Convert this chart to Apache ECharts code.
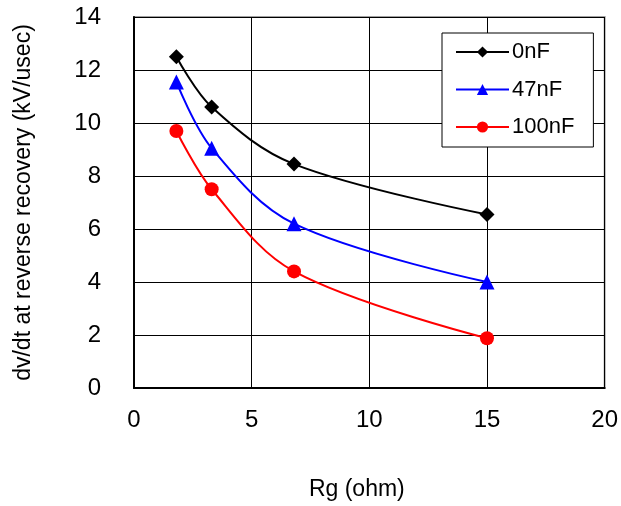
<!DOCTYPE html>
<html>
<head>
<meta charset="utf-8">
<script src="https://cdn.jsdelivr.net/npm/echarts@6/dist/echarts.min.js"></script>
<style>
html,body{margin:0;padding:0;background:#fff;}
#chart{width:621px;height:506px;}
</style>
</head>
<body>
<div id="chart"></div>
<script>
var rg = [1.8, 3.3, 6.8, 15];
var s0nF = [12.5, 10.6, 8.45, 6.55];
var s47nF = [11.55, 9.05, 6.2, 4.0];
var s100nF = [9.7, 7.5, 4.4, 1.88];
var seriesNames = ['0nF', '47nF', '100nF'];
var xTitle = 'Rg (ohm)';
var yTitle = 'dv/dt at reverse recovery (kV/usec)';

function pairs(ys){ return rg.map(function(x,i){ return [x, ys[i]]; }); }

var FONT = '"Liberation Sans", Arial, sans-serif';
var chart = echarts.init(document.getElementById('chart'));
chart.setOption({
  animation: false,
  backgroundColor: '#fff',
  grid: {left: 134, right: 16, top: 17, bottom: 118, show: true, borderColor: '#a0a0a0', borderWidth: 2, backgroundColor: '#fff'},
  legend: {
    orient: 'vertical', left: 442, top: 33,
    padding: [8, 19, 9, 13],
    itemWidth: 53, itemHeight: 14, itemGap: 15.5,
    backgroundColor: '#fff', borderColor: '#000', borderWidth: 1, borderRadius: 0,
    textStyle: {fontFamily: FONT, fontSize: 22, color: '#000', lineHeight: 22, padding: [0,0,0,-2]},
    data: seriesNames
  },
  xAxis: {
    type: 'value', min: 0, max: 20, interval: 5,
    name: xTitle, nameLocation: 'middle', nameGap: 90,
    nameTextStyle: {fontFamily: FONT, fontSize: 23, color: '#000', padding: [0, 25, 0, 0]},
    axisLine: {show: true, onZero: false, lineStyle: {color: '#000', width: 2}},
    axisTick: {show: false},
    axisLabel: {fontFamily: FONT, fontSize: 24, color: '#000', margin: 20},
    splitLine: {show: true, lineStyle: {color: '#000', width: 1}}
  },
  yAxis: {
    type: 'value', min: 0, max: 14, interval: 2,
    name: yTitle, nameLocation: 'middle', nameGap: 99,
    nameTextStyle: {fontFamily: FONT, fontSize: 23, color: '#000'},
    axisLine: {show: true, lineStyle: {color: '#000', width: 2}},
    axisTick: {show: false},
    axisLabel: {fontFamily: FONT, fontSize: 24, color: '#000', margin: 33},
    splitLine: {show: true, lineStyle: {color: '#000', width: 1}}
  },
  series: [
    {name: seriesNames[0], type: 'line', data: pairs(s0nF), smooth: 0.35,
     symbol: 'diamond', symbolSize: 15, lineStyle: {color: '#000', width: 2}, itemStyle: {color: '#000'}},
    {name: seriesNames[1], type: 'line', data: pairs(s47nF), smooth: 0.35,
     symbol: 'triangle', symbolSize: 15, lineStyle: {color: '#0000ff', width: 2}, itemStyle: {color: '#0000ff'}},
    {name: seriesNames[2], type: 'line', data: pairs(s100nF), smooth: 0.35,
     symbol: 'circle', symbolSize: 14, lineStyle: {color: '#ff0000', width: 2}, itemStyle: {color: '#ff0000'}}
  ]
});
</script>
</body>
</html>
